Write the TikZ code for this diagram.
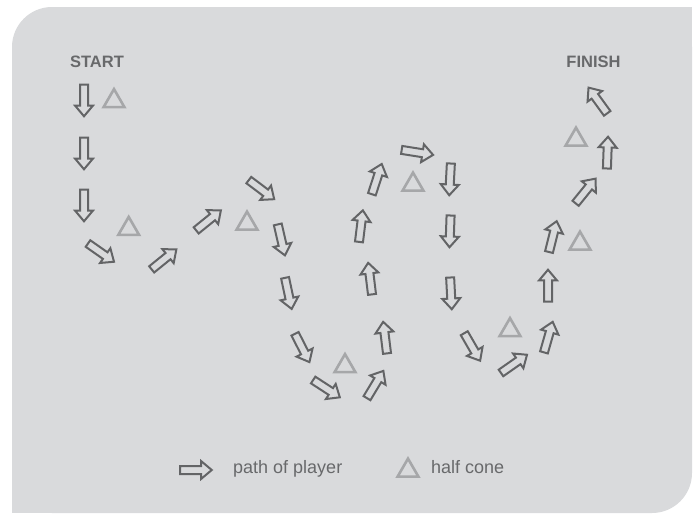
\documentclass[tikz,border=0pt]{standalone}
\usepackage{fontspec}
\setmainfont{Liberation Sans}
\usetikzlibrary{shapes.arrows,shapes.geometric}
\definecolor{panel}{RGB}{217,218,220}
\definecolor{arrowgray}{RGB}{99,100,102}
\definecolor{conegray}{RGB}{166,167,169}
\definecolor{textgray}{RGB}{104,105,107}
\tikzset{
  pth/.style={rotate=#1, xshift=-3pt},
  cone/.style={regular polygon, regular polygon sides=3, draw=conegray,
    line width=2.6pt, minimum size=24pt, inner sep=0pt, yshift=-3.6pt},
}
\begin{document}
\begin{tikzpicture}[x=1pt,y=-1pt]
      \useasboundingbox (0,0) rectangle (697,514);
      \fill[panel, rounded corners=40pt] (12,7) rectangle (692,513);
      \fill[panel] (652,7) rectangle (692,47);
      \fill[panel] (12,473) rectangle (52,513);

      \node[font=\fontsize{16.5}{18}\selectfont\bfseries, text=textgray] (start)  at (97,61.5)  {START};
      \node[font=\fontsize{16.5}{18}\selectfont\bfseries, text=textgray] (finish) at (593.5,61.5) {FINISH};

      \begin{scope}[every node/.style={single arrow, draw=arrowgray, line width=2pt,
          inner xsep=12.5pt, inner ysep=3pt, text height=0pt, text depth=0pt,
          single arrow head extend=5pt, single arrow tip angle=80}]
        \node[pth=-90] (a1)  at (84,101)     {};
        \node[pth=-90] (a2)  at (84,154)     {};
        \node[pth=-90] (a3)  at (84,206)     {};
        \node[pth=-35] (a4)  at (101.5,253)  {};
        \node[pth=39]  (a5)  at (164.5,259)  {};
        \node[pth=39]  (a6)  at (209,220)    {};
        \node[pth=-37] (a7)  at (262,190)    {};
        \node[pth=-77] (a8)  at (281.5,240.5) {};
        \node[pth=-78] (a9)  at (288.5,294)  {};
        \node[pth=-63] (a10) at (302.5,348.5) {};
        \node[pth=-33] (a11) at (327,389)    {};
        \node[pth=59]  (a12) at (375.5,384)  {};
        \node[pth=97]  (a13) at (385,337)    {};
        \node[pth=97]  (a14) at (370,278)    {};
        \node[pth=83]  (a15) at (361,225.5)  {};
        \node[pth=72]  (a16) at (377,178.5)  {};
        \node[pth=-9]  (a17) at (418,152.5)  {};
        \node[pth=-93] (a18) at (450,180)    {};
        \node[pth=-92] (a19) at (450,232)    {};
        \node[pth=-87] (a20) at (451,294)    {};
        \node[pth=-60] (a21) at (472.5,347.5) {};
        \node[pth=35]  (a22) at (514.5,363.5) {};
        \node[pth=74]  (a23) at (548.5,336.5) {};
        \node[pth=90]  (a24) at (548,285)    {};
        \node[pth=76]  (a25) at (553,236)    {};
        \node[pth=51]  (a26) at (586,190.5)  {};
        \node[pth=88]  (a27) at (607.5,152)  {};
        \node[pth=126] (a28) at (597.5,100)  {};
        % legend
        \node[pth=0]   (keyarrow) at (196.5,470) {};
      \end{scope}

      \begin{scope}[every node/.style={cone}]
        \node (c1) at (114,97.5)  {};
        \node (c2) at (128.7,225.3) {};
        \node (c3) at (247,220)   {};
        \node (c4) at (345,362.5) {};
        \node (c5) at (413,181)   {};
        \node (c6) at (510,326.5) {};
        \node (c7) at (580,240)   {};
        \node (c8) at (576,136)   {};
        % legend
        \node (keycone) at (408,467) {};
      \end{scope}

      \begin{scope}[every node/.style={font=\fontsize{18}{20}\selectfont, text=textgray,
          anchor=base west, inner sep=0pt}]
        \node (keypath) at (233,473) {path of player};
        \node (keyhalf) at (431,473) {half cone};
      \end{scope}

    \end{tikzpicture}
\end{document}
